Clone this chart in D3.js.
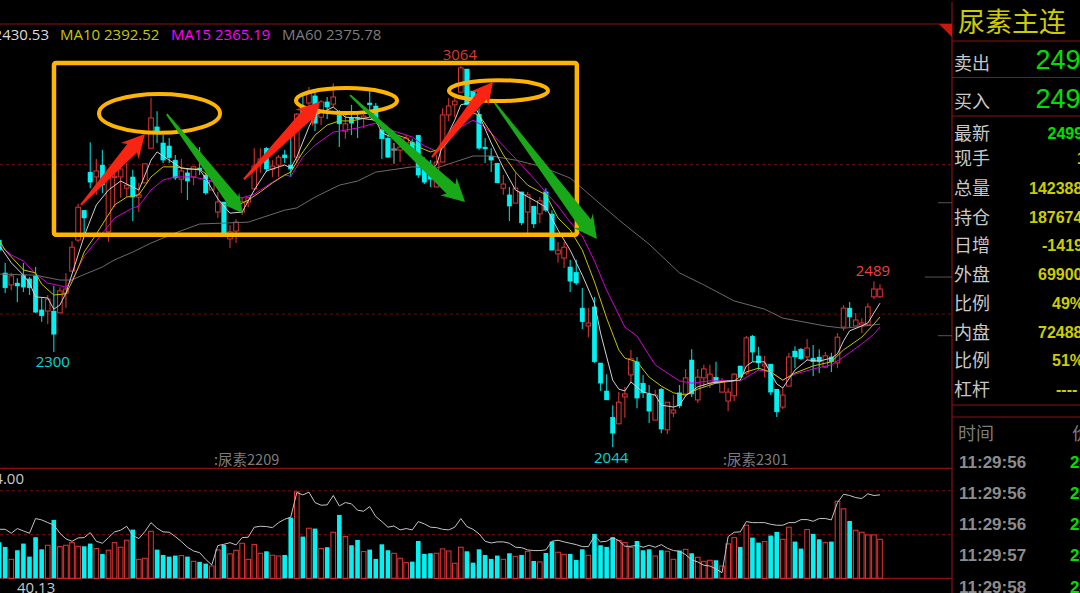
<!DOCTYPE html>
<html>
<head>
<meta charset="utf-8">
<style>
  html, body { margin: 0; padding: 0; background: #000; overflow: hidden; }
  svg { display: block; }
  text { font-family: "Open Sans", sans-serif; }
  .cjk { font-family: "Noto Sans CJK SC", sans-serif; }
  .num { font-family: "Liberation Sans", sans-serif; font-weight: 700; }
</style>
<script src="https://cdn.jsdelivr.net/npm/d3@7"></script>
</head>
<body>
<div id="chart"></div>
<script>
// candles, first one is the half hidden bar on the left edge
const opens = [2598,2510,2478,2483,2504,2494,2502,2411,2408,2408,2403,2456,2515,2598,2678,2780,2767,2799,2620,2767,2767,2737,2767,2713,2751,2844,2901,2858,2850,2812,2761,2778,2767,2791,2772,2732,2673,2700,2601,2622,2673,2700,2735,2807,2844,2788,2799,2826,2799,2820,2954,2965,2984,2927,2968,2962,2933,2890,2925,2927,2925,2965,2957,2893,2871,2842,2839,2858,2860,2879,2807,2794,2740,2807,2933,2960,2994,3056,2997,2935,2847,2823,2804,2737,2719,2697,2727,2673,2689,2668,2727,2668,2561,2550,2526,2512,2416,2368,2419,2269,2194,2124,2106,2178,2237,2272,2215,2186,2116,2199,2090,2135,2189,2186,2277,2170,2229,2215,2231,2191,2167,2181,2261,2242,2341,2288,2261,2266,2199,2151,2207,2301,2306,2285,2282,2285,2258,2285,2269,2365,2416,2368,2371,2371,2446,2446];
const closes = [2571,2470,2502,2475,2472,2470,2405,2395,2440,2346,2462,2467,2579,2686,2657,2753,2783,2745,2764,2769,2788,2745,2713,2719,2802,2925,2887,2812,2818,2764,2783,2756,2794,2786,2724,2756,2700,2617,2620,2646,2700,2711,2796,2815,2788,2796,2820,2818,2788,2935,2938,2992,2911,2968,2954,2981,2909,2909,2911,2925,2930,2960,2919,2869,2820,2842,2847,2871,2836,2772,2753,2761,2807,2933,2957,2970,3059,2960,2978,2844,2842,2812,2751,2748,2689,2737,2644,2719,2641,2703,2678,2571,2571,2579,2488,2483,2379,2376,2272,2215,2170,2081,2164,2186,2280,2175,2189,2140,2183,2092,2164,2143,2154,2229,2186,2231,2253,2239,2215,2221,2191,2239,2231,2336,2298,2269,2266,2191,2138,2183,2285,2285,2280,2309,2272,2272,2288,2272,2338,2416,2392,2384,2376,2419,2467,2467];
const highs = [2598,2537,2510,2496,2537,2499,2526,2443,2451,2475,2472,2510,2595,2695,2678,2860,2815,2839,2780,2794,2794,2804,2786,2751,2802,2978,2943,2879,2871,2826,2815,2791,2796,2847,2778,2756,2727,2700,2638,2654,2713,2713,2844,2844,2847,2812,2826,2839,2874,2938,2992,3008,2992,2973,2981,3018,2946,2933,2960,2938,2935,2997,2965,2914,2879,2858,2860,2879,2869,2879,2820,2812,2826,2951,2978,2978,3064,3056,2997,2951,2871,2844,2804,2772,2740,2778,2727,2727,2689,2713,2737,2678,2593,2593,2545,2545,2470,2416,2446,2269,2239,2156,2191,2205,2304,2285,2237,2210,2197,2202,2164,2183,2210,2253,2306,2253,2264,2264,2272,2229,2202,2242,2261,2341,2344,2312,2288,2266,2199,2202,2296,2314,2309,2333,2317,2306,2298,2296,2349,2424,2432,2403,2389,2429,2488,2480];
const lows = [2531,2456,2464,2432,2459,2451,2403,2379,2373,2298,2403,2416,2515,2593,2617,2737,2719,2724,2593,2686,2711,2713,2649,2673,2751,2844,2858,2804,2804,2759,2724,2705,2745,2772,2719,2732,2657,2617,2577,2590,2665,2686,2735,2778,2780,2767,2767,2804,2767,2804,2933,2946,2890,2906,2922,2954,2847,2869,2879,2871,2898,2927,2914,2815,2818,2802,2807,2831,2820,2764,2748,2740,2740,2807,2917,2927,2994,2960,2954,2839,2804,2780,2751,2719,2649,2697,2638,2617,2630,2644,2673,2571,2537,2523,2459,2478,2360,2338,2269,2194,2170,2044,2106,2122,2215,2148,2175,2108,2116,2081,2079,2124,2148,2178,2178,2162,2205,2202,2215,2191,2140,2167,2231,2237,2272,2250,2231,2183,2124,2146,2207,2255,2277,2277,2234,2242,2255,2245,2255,2355,2365,2368,2349,2371,2440,2443];

// volume bars and the open interest line below them
const volumes = [34.6,30.1,18.2,26.9,33.3,20.8,39.4,27.8,31.7,56.0,30.4,31.7,34.2,30.7,30.7,33.3,28.5,23.4,26.9,34.2,29.8,36.5,46.7,18.2,19.2,45.1,27.5,22.4,20.8,21.8,21.8,20.8,16.3,15.7,14.1,11.8,27.2,32.0,23.4,26.9,33.6,18.2,32.3,24.0,25.9,22.1,21.4,22.4,58.2,82.9,40.0,48.0,47.7,28.5,29.8,44.2,60.8,40.0,31.7,36.8,25.6,27.5,18.6,32.6,26.9,24.0,19.2,15.0,16.0,35.8,23.4,24.0,24.0,28.2,26.2,14.4,29.8,25.9,15.0,27.8,22.4,18.6,21.8,18.2,24.0,21.1,22.4,25.9,16.6,15.7,24.3,35.2,25.0,23.0,23.4,17.6,27.8,22.1,42.6,31.7,30.1,39.4,36.2,34.2,29.8,35.8,26.9,27.8,21.4,26.9,25.9,18.2,26.6,27.8,24.0,20.2,16.3,17.3,17.3,11.8,33.0,39.0,30.1,50.9,39.0,34.2,35.2,41.0,44.5,37.4,49.0,35.2,28.5,46.7,42.6,37.4,34.2,35.2,73.9,66.6,55.0,46.1,44.2,41.6,41.6,37.4];
const openInterest = [47.0,47.0,43.2,47.7,45.4,43.2,57.3,56.0,53.4,51.2,43.2,37.8,35.5,38.7,39.0,43.8,35.5,33.6,39.0,44.5,46.1,49.9,41.0,38.1,44.8,53.4,48.0,44.5,44.2,40.0,35.2,29.8,26.2,24.6,18.2,12.8,31.4,32.6,34.2,32.0,39.0,39.4,49.0,49.9,49.6,48.6,53.4,56.6,58.6,82.2,80.0,82.6,72.6,70.1,70.4,79.4,69.4,72.6,71.4,65.3,64.3,68.8,59.2,54.4,49.0,50.2,46.4,47.7,46.4,54.4,52.2,49.0,48.6,47.0,46.4,49.0,57.3,49.6,47.0,42.6,35.5,33.9,34.9,34.9,33.6,29.8,29.4,27.2,26.6,26.6,27.2,35.5,36.5,34.9,33.6,32.3,30.4,30.4,40.6,34.9,35.5,39.0,36.2,30.7,30.7,31.7,29.8,31.7,29.8,32.3,28.8,26.6,25.9,22.7,17.6,15.7,12.5,11.8,9.0,5.4,40.0,44.2,44.5,54.4,53.4,53.4,53.4,51.8,50.9,50.9,53.4,53.4,56.3,56.3,54.7,57.3,57.3,56.0,72.6,80.6,79.4,77.4,76.5,81.0,79.4,80.0];

// moving averages, read at the candle numbers listed beside them (0 = second candle)
const ma5Index = [-1,1,3,4,5,7,8,9,10,12,13,15,17,19,21,22,24,25,27,29,32,33,35,37,39,41,43,46,47,48,50,51,53,54,56,58,61,62,64,66,68,70,71,72,74,75,77,78,80,82,84,87,89,91,93,95,97,98,100,101,102,103,105,107,108,110,111,112,114,116,119,121,122,123,125,126,127,128,130,132,134,136,137,138,139,141,142,143,144];
const ma5Values = [2585,2537,2504,2483,2446,2443,2413,2424,2456,2558,2609,2692,2732,2756,2740,2732,2812,2834,2812,2791,2786,2764,2708,2670,2673,2732,2783,2799,2791,2820,2901,2933,2946,2954,2927,2925,2919,2885,2871,2852,2812,2786,2799,2852,2919,2960,2968,2933,2858,2791,2732,2705,2686,2625,2571,2504,2429,2349,2223,2199,2194,2218,2191,2183,2156,2151,2156,2181,2205,2215,2221,2223,2261,2272,2272,2242,2213,2202,2250,2277,2274,2282,2293,2328,2355,2368,2376,2403,2429];
const ma10Index = [-1,0,3,5,6,8,10,11,12,13,15,18,20,22,24,26,28,30,32,34,36,38,40,42,44,46,47,49,51,53,55,57,60,62,64,66,68,70,72,74,76,77,78,80,82,84,86,89,91,93,95,97,99,101,102,104,106,108,110,112,114,117,120,122,124,126,128,130,133,136,138,141,143,144];
const ma10Values = [2598,2571,2518,2510,2480,2451,2454,2486,2523,2566,2614,2692,2713,2719,2767,2794,2794,2788,2788,2764,2713,2689,2705,2727,2751,2772,2780,2834,2879,2906,2917,2917,2927,2903,2882,2871,2847,2834,2844,2887,2925,2938,2933,2885,2826,2780,2745,2719,2657,2625,2571,2486,2389,2304,2282,2272,2231,2207,2189,2183,2199,2215,2221,2245,2255,2245,2223,2242,2261,2272,2304,2338,2373,2392];
const ma15Index = [-1,1,3,5,7,10,11,12,13,15,18,21,22,24,26,28,31,34,37,39,41,44,46,47,49,51,54,58,61,63,67,69,71,73,75,77,79,82,85,88,91,93,95,97,99,102,104,107,109,111,113,116,121,124,126,128,130,133,136,138,141,143,144];
const ma15Values = [2585,2558,2542,2507,2483,2472,2491,2523,2555,2595,2657,2684,2689,2732,2759,2767,2767,2756,2713,2711,2721,2753,2772,2769,2820,2852,2887,2898,2911,2895,2874,2850,2836,2863,2901,2919,2901,2850,2799,2745,2689,2646,2609,2542,2464,2365,2341,2264,2242,2221,2215,2221,2221,2250,2245,2223,2239,2253,2264,2285,2320,2346,2365];
const ma60Index = [-1,5,9,11,12,16,18,21,24,28,32,40,46,48,51,55,58,61,67,71,74,77,80,84,88,93,101,106,111,115,120,125,128,135,138,140,144];
const ma60Values = [2507,2504,2491,2491,2499,2526,2545,2566,2590,2617,2641,2646,2678,2684,2713,2745,2756,2780,2794,2791,2807,2823,2823,2812,2796,2764,2652,2587,2510,2478,2435,2413,2389,2368,2362,2365,2373];

const gridPrices = [2800, 2400];
const gridVolumes = [42, 84];
const sideMarks = [2698, 2499, 2342];

const maLabels = ["MA5 2430.53", "MA10 2392.52", "MA15 2365.19", "MA60 2375.78"];
const contracts = [":尿素2209", ":尿素2301"];
const quoteNames = ["最新","现手","总量","持仓","日增","外盘","比例","内盘","比例","杠杆"];
const quoteValues = ["2499","1","142388","187674","-1419","69900","49%","72488","51%","----"];
const tradeTimes = ["11:29:56","11:29:56","11:29:56","11:29:57","11:29:58"];
const tradePrice = "2499";

const width = 1080, height = 593;
const RED = "#d93636", CYAN = "#00f2f2", GRID = "#6e0a0a", FRAME = "#8c1010";
const panelX = 952;

const svg = d3.select("#chart").append("svg")
  .attr("width", width)
  .attr("height", height)
  .style("background", "#000");

const candles = opens.map((o, i) => ({
  i: i - 1, open: o, close: closes[i], high: highs[i], low: lows[i], vol: volumes[i]
}));

const x = d3.scaleLinear().domain([0, 144]).range([5.2, 880]);
const y = d3.scaleLinear().domain([2044, 3064]).range([447, 66]);
const yVol = d3.scaleLinear().domain([0, 84]).range([578.3, 490.7]);

// grid
svg.append("g").selectAll("line").data(gridPrices).join("line")
  .attr("x1", 0).attr("x2", panelX)
  .attr("y1", d => y(d)).attr("y2", d => y(d))
  .attr("stroke", GRID).attr("stroke-dasharray", "3,3");
svg.append("g").selectAll("line").data(gridVolumes).join("line")
  .attr("x1", 0).attr("x2", panelX)
  .attr("y1", d => yVol(d)).attr("y2", d => yVol(d))
  .attr("stroke", GRID).attr("stroke-dasharray", "3,3");

// frame lines
const frameLines = [[0, 24, panelX, 24], [0, 468.3, panelX, 468.3], [0, 578.3, panelX, 578.3],
  [panelX, 2, panelX, height], [panelX, 41, width, 41], [panelX, 77.5, width, 77.5],
  [panelX, 116, width, 116], [panelX, 405, width, 405], [panelX, 417, width, 417]];
svg.append("g").selectAll("line").data(frameLines).join("line")
  .attr("x1", d => d[0]).attr("y1", d => d[1])
  .attr("x2", d => d[2]).attr("y2", d => d[3])
  .attr("stroke", FRAME).attr("stroke-width", 1.2);
svg.append("path").attr("d", "M939,24L952,24L952,37Z").attr("fill", "#c81a0c");

svg.append("g").selectAll("line").data(sideMarks).join("line")
  .attr("x1", (d, i) => i == 1 ? 925 : 938).attr("x2", panelX)
  .attr("y1", d => y(d)).attr("y2", d => y(d))
  .attr("stroke", "#555");

// candles
const candle = svg.append("g").selectAll("g").data(candles).join("g");
const candleColor = d => d.close > d.open ? RED : d.close < d.open ? CYAN : "#9a9a9a";
candle.append("line")
  .attr("x1", d => x(d.i)).attr("x2", d => x(d.i))
  .attr("y1", d => y(d.high)).attr("y2", d => y(d.low))
  .attr("stroke", d => d.close < d.open ? "#00c4c4" : d.close > d.open ? "#c22e2e" : "#9a9a9a")
  .attr("stroke-width", 1.2);
candle.append("rect")
  .attr("x", d => x(d.i) - 2.3)
  .attr("width", 4.6)
  .attr("y", d => y(Math.max(d.open, d.close)))
  .attr("height", d => Math.max(1.2, Math.abs(y(d.open) - y(d.close))))
  .attr("fill", d => d.close < d.open ? CYAN : "#000")
  .attr("stroke", d => d.close < d.open ? CYAN : candleColor(d))
  .attr("stroke-width", d => d.close < d.open ? 0.4 : 1);

// moving averages
const maLine = d3.line().x(d => x(d[0])).y(d => y(d[1]));
const maSeries = [
  [ma60Index, ma60Values, "#6a6a6a"],
  [ma15Index, ma15Values, "#d400d4"],
  [ma10Index, ma10Values, "#c4c400"],
  [ma5Index, ma5Values, "#d0d0d0"]
];
svg.append("g").selectAll("path").data(maSeries).join("path")
  .attr("d", s => maLine(s[0].map((k, j) => [k, s[1][j]])))
  .attr("fill", "none")
  .attr("stroke", s => s[2])
  .attr("stroke-width", 1);

// volume
svg.append("g").selectAll("rect").data(candles).join("rect")
  .attr("x", d => x(d.i) - 2.3)
  .attr("width", 4.6)
  .attr("y", d => yVol(d.vol))
  .attr("height", d => yVol(0) - yVol(d.vol))
  .attr("fill", d => d.close < d.open ? CYAN : "#000")
  .attr("stroke", d => d.close < d.open ? "none" : "#e83434")
  .attr("stroke-width", 1);
svg.append("path")
  .attr("d", d3.line().x((d, i) => x(i - 1)).y(d => yVol(d))(openInterest))
  .attr("fill", "none")
  .attr("stroke", "#c4c4c4")
  .attr("stroke-width", 1);

// hand drawn marks, placed by candle number and price
const boxLeft = 8.03, boxRight = 94.1, boxTop = 3072, boxBottom = 2612;
svg.append("rect")
  .attr("x", x(boxLeft)).attr("y", y(boxTop))
  .attr("width", x(boxRight) - x(boxLeft))
  .attr("height", y(boxBottom) - y(boxTop))
  .attr("rx", 2)
  .attr("fill", "none").attr("stroke", "#ffb400").attr("stroke-width", 4.5);

const ellipses = [[15.44, 35.36, 2989, 2885], [47.87, 64.5, 3005, 2938], [73.05, 89.35, 3026, 2970]];
svg.append("g").selectAll("ellipse").data(ellipses).join("ellipse")
  .attr("cx", d => (x(d[0]) + x(d[1])) / 2)
  .attr("cy", d => (y(d[2]) + y(d[3])) / 2)
  .attr("rx", d => (x(d[1]) - x(d[0])) / 2)
  .attr("ry", d => (y(d[3]) - y(d[2])) / 2)
  .attr("fill", "none").attr("stroke", "#ffb400").attr("stroke-width", 4);

function arrowPath(d) {
  const [i0, p0, i1, p1, neck, head] = d;
  const x0 = x(i0), y0 = y(p0), x1 = x(i1), y1 = y(p1);
  const len = Math.hypot(x1 - x0, y1 - y0);
  const ux = (x1 - x0) / len, uy = (y1 - y0) / len, nx = -uy, ny = ux;
  const nkx = x1 - ux * head * 0.8, nky = y1 - uy * head * 0.8;
  const bx = x1 - ux * head * 0.95, by = y1 - uy * head * 0.95;
  const pts = [
    [x0 + nx, y0 + ny],
    [nkx + nx * neck / 2, nky + ny * neck / 2],
    [bx + nx * head / 2, by + ny * head / 2],
    [x1, y1],
    [bx - nx * head / 2, by - ny * head / 2],
    [nkx - nx * neck / 2, nky - ny * neck / 2],
    [x0 - nx, y0 - ny]
  ];
  return "M" + pts.map(p => p.join(",")).join("L") + "Z";
}
const redArrows = [[12.48, 2692, 23.0, 2882, 13, 24], [39.3, 2761, 51.8, 2968, 13, 24], [70.25, 2820, 80.3, 3021, 12, 22]];
const greenArrows = [[26.6, 2935, 39.1, 2670, 13, 20], [56.76, 2986, 75.7, 2700, 13, 24], [80.6, 2965, 97.4, 2601, 14, 24]];
svg.append("g").selectAll("path").data(greenArrows).join("path")
  .attr("d", arrowPath).attr("fill", "#18a818");
svg.append("g").selectAll("path").data(redArrows).join("path")
  .attr("d", arrowPath).attr("fill", "#fa2412");

// top legend
const legendPos = [[49, "end", "#dcdcdc"], [60, "start", "#c8c800"], [171, "start", "#ff00ff"], [282, "start", "#7c7c7c"]];
svg.append("g").selectAll("text").data(maLabels).join("text")
  .attr("x", (d, i) => legendPos[i][0]).attr("y", 39.5)
  .attr("text-anchor", (d, i) => legendPos[i][1])
  .attr("fill", (d, i) => legendPos[i][2])
  .attr("font-size", 15)
  .text(d => d);

// high and low labels
const extremes = [[75, 3064, "3064", RED, -6, -1], [8, 2300, "2300", "#00d8d8", 16, -1], [100, 2044, "2044", "#00d8d8", 16, -1.5], [143, 2489, "2489", "#f04040", -5, -1]];
svg.append("g").selectAll("text").data(extremes).join("text")
  .attr("x", d => x(d[0]) + d[5]).attr("y", d => y(d[1]) + d[4])
  .attr("text-anchor", "middle")
  .attr("fill", d => d[3])
  .attr("font-size", 15)
  .text(d => d[2]);

// contract names on the time axis
svg.append("g").selectAll("text").data(contracts).join("text")
  .attr("class", "cjk")
  .attr("x", (d, i) => i == 0 ? 214 : 723).attr("y", 465)
  .attr("fill", "#7c7c7c")
  .attr("font-size", 14.5)
  .text(d => d);

svg.append("text").attr("x", 24).attr("y", 484).attr("text-anchor", "end")
  .attr("fill", "#c8c8c8").attr("font-size", 15).text("84.00");
svg.append("text").attr("x", 17).attr("y", 593)
  .attr("fill", "#c8c8c8").attr("font-size", 15).text("40.13");

// right panel
svg.append("text").attr("class", "cjk").attr("x", 958).attr("y", 32)
  .attr("fill", "#cccc00").attr("font-size", 27).text("尿素主连");

const bidAsk = [["卖出", 69.5], ["买入", 108]];
svg.append("g").selectAll("text").data(bidAsk).join("text")
  .attr("class", "cjk").attr("x", 954).attr("y", d => d[1])
  .attr("fill", "#c8c8c8").attr("font-size", 18).text(d => d[0]);
svg.append("g").selectAll("text").data(bidAsk).join("text")
  .attr("class", "num").style("font-weight", 400)
  .attr("x", 1035.5).attr("y", d => d[1] - 0.3)
  .attr("fill", "#00e000").attr("font-size", 27).text("2499");

const quoteY = [133, 158, 188, 217, 245, 274, 303, 332, 360, 389];
const quoteX = [1047.5, 1077, 1029, 1029, 1042, 1038, 1052, 1038, 1052, 1056];
svg.append("g").selectAll("text").data(quoteNames).join("text")
  .attr("class", "cjk").attr("x", 954).attr("y", (d, i) => quoteY[i] + 6.5)
  .attr("fill", "#c8c8c8").attr("font-size", 18).text(d => d);
svg.append("g").selectAll("text").data(quoteValues).join("text")
  .attr("class", "num").attr("x", (d, i) => quoteX[i]).attr("y", (d, i) => quoteY[i] + 5.5)
  .attr("fill", (d, i) => i == 0 ? "#00e000" : "#cccc00").attr("font-size", 16).text(d => d);

svg.append("text").attr("class", "cjk").attr("x", 958).attr("y", 439.5)
  .attr("fill", "#7c7c7c").attr("font-size", 18).text("时间");
svg.append("text").attr("class", "cjk").attr("x", 1072).attr("y", 439.5)
  .attr("fill", "#7c7c7c").attr("font-size", 18).text("价");

const tradeY = [462, 493, 524, 555, 587];
svg.append("g").selectAll("text").data(tradeTimes).join("text")
  .attr("class", "num").attr("x", 959).attr("y", (d, i) => tradeY[i] + 6)
  .attr("fill", "#8c8c8c").attr("font-size", 17).text(d => d);
svg.append("g").selectAll("text").data(tradeTimes).join("text")
  .attr("class", "num").attr("x", 1070).attr("y", (d, i) => tradeY[i] + 6)
  .attr("fill", "#00e000").attr("font-size", 17).text(tradePrice);
</script>
</body>
</html>
